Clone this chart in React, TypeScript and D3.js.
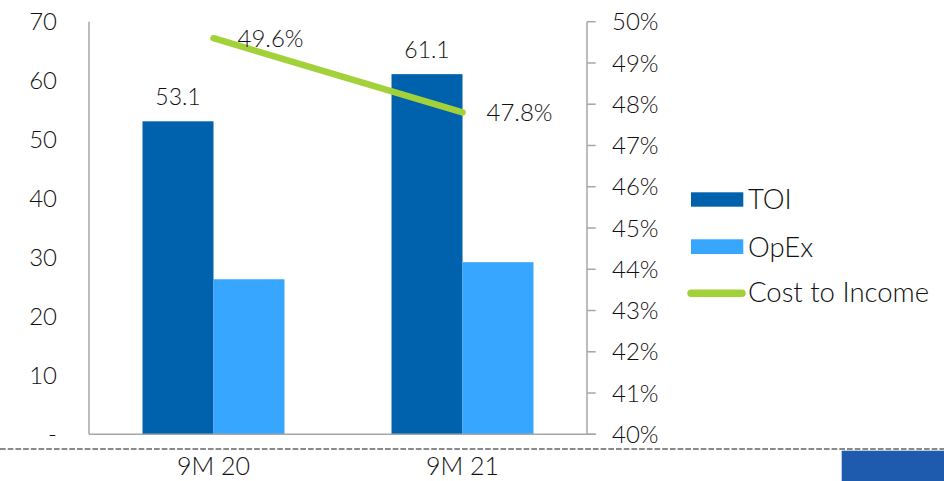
import React from "react";
import * as d3 from "d3";

// Periods and series
const categories = ["9M 20", "9M 21"];
const toi = [53.1, 61.1];
const opex = [26.3, 29.2];
const costToIncome = [0.496, 0.478];
const leftTicks = [0, 10, 20, 30, 40, 50, 60, 70];
const rightTicks = [0.4, 0.41, 0.42, 0.43, 0.44, 0.45, 0.46, 0.47, 0.48, 0.49, 0.5];
const seriesNames = ["TOI", "OpEx"];

const W = 944;
const H = 481;
const FONT = "Lato, 'Open Sans', sans-serif";
const WEIGHT = 300;
const C_TOI = "#0061ad";
const C_OPEX = "#36a6ff";
const C_LINE = "#a3d13a";
const C_AXIS = "#a6a6a6";
const C_TEXT = "#111";

export default function App() {
  const plot = { left: 89, right: 587, top: 21.7, bottom: 434.3 };

  const x = d3.scaleBand<string>().domain(categories).range([plot.left, plot.right]).padding(0);
  const xSub = d3
    .scaleBand<string>()
    .domain(seriesNames)
    .range([0, x.bandwidth()])
    .paddingInner(0)
    .paddingOuter(0.754);
  const yL = d3.scaleLinear().domain([0, 70]).range([plot.bottom, plot.top]);
  const yR = d3.scaleLinear().domain([0.4, 0.5]).range([plot.bottom, plot.top]);

  const cx = (c: string) => (x(c) ?? 0) + x.bandwidth() / 2;
  const linePts: [number, number][] = categories.map((c, i) => [cx(c), yR(costToIncome[i])]);
  const line = d3.line()(linePts) ?? "";

  const pct0 = d3.format(".0%");
  const pct1 = d3.format(".1%");

  return (
    <svg
      width={W}
      height={H}
      style={{ position: "absolute", left: 0, top: 0, background: "#fff" }}
      fontFamily={FONT}
      fontWeight={WEIGHT}
    >
      {/* bars */}
      {categories.map((c, i) => {
        const bx = x(c) ?? 0;
        const vals = [toi[i], opex[i]];
        return (
          <g key={c}>
            {seriesNames.map((s, j) => (
              <rect
                key={s}
                x={bx + (xSub(s) ?? 0)}
                y={yL(vals[j])}
                width={xSub.bandwidth()}
                height={yL(0) - yL(vals[j])}
                fill={j === 0 ? C_TOI : C_OPEX}
              />
            ))}
            <text
              x={bx + (xSub("TOI") ?? 0) + xSub.bandwidth() / 2}
              y={yL(toi[i]) - 16}
              textAnchor="middle"
              fontSize={23}
              fill={C_TEXT}
            >
              {toi[i].toFixed(1)}
            </text>
          </g>
        );
      })}

      {/* axes */}
      <line x1={plot.left} x2={plot.left} y1={plot.top} y2={plot.bottom} stroke={C_AXIS} strokeWidth={1.5} />
      <line x1={plot.left} x2={plot.right + 8.7} y1={plot.bottom} y2={plot.bottom} stroke={C_AXIS} strokeWidth={1.5} />
      <line x1={plot.right} x2={plot.right} y1={plot.top} y2={plot.bottom} stroke={C_AXIS} strokeWidth={1.5} />
      {rightTicks.map((t) => (
        <g key={t}>
          <line x1={plot.right} x2={plot.right + 8.7} y1={yR(t)} y2={yR(t)} stroke={C_AXIS} strokeWidth={1.5} />
          <text x={612} y={yR(t)} dy="0.36em" fontSize={24} fill={C_TEXT}>
            {pct0(t)}
          </text>
        </g>
      ))}
      {leftTicks.map((t) => (
        <text key={t} x={57} y={yL(t)} dy="0.36em" textAnchor="end" fontSize={24} fill={C_TEXT}>
          {t === 0 ? "-" : t}
        </text>
      ))}

      {/* cost to income line */}
      <path d={line} fill="none" stroke={C_LINE} strokeWidth={6.5} strokeLinecap="round" />
      {linePts.map((p, i) => (
        <text key={i} x={p[0] + 24} y={p[1]} dy="0.36em" fontSize={24} fill={C_TEXT}>
          {pct1(costToIncome[i])}
        </text>
      ))}

      {/* category labels */}
      {categories.map((c) => (
        <text key={c} x={cx(c)} y={475} textAnchor="middle" fontSize={25} fill={C_TEXT}>
          {c}
        </text>
      ))}

      {/* legend */}
      <rect x={691} y={192.3} width={52.3} height={14.4} fill={C_TOI} />
      <text x={748} y={199.5} dy="0.36em" fontSize={27.5} fill={C_TEXT}>TOI</text>
      <rect x={691} y={239.3} width={52.3} height={14.7} fill={C_OPEX} />
      <text x={748} y={246.6} dy="0.36em" fontSize={27.5} fill={C_TEXT}>OpEx</text>
      <line x1={691} x2={742} y1={293.3} y2={293.3} stroke={C_LINE} strokeWidth={7.5} strokeLinecap="round" />
      <text x={748} y={292.5} dy="0.36em" fontSize={27.5} fill={C_TEXT}>Cost to Income</text>

      {/* footer */}
      <line x1={0} x2={W} y1={449} y2={449} stroke="#8a8a8a" strokeWidth={2} strokeDasharray="5.7 2" />
      <rect x={841.7} y={450.7} width={W - 841.7} height={H - 450.7} fill="#1e5aae" />
    </svg>
  );
}
